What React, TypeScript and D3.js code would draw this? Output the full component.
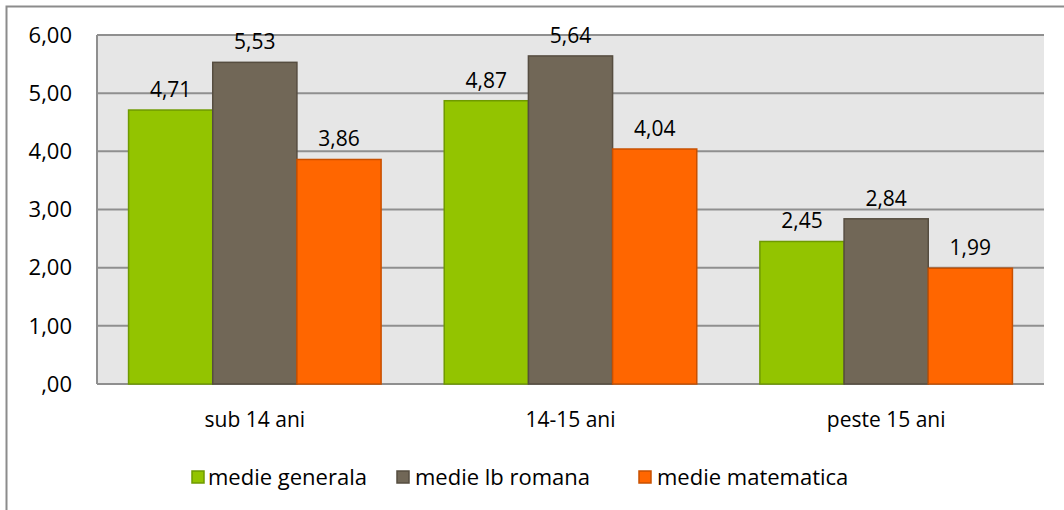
import React from "react";
import * as d3 from "d3";

const categories = ["sub 14 ani", "14-15 ani", "peste 15 ani"];
const seriesNames = ["medie generala", "medie lb romana", "medie matematica"];
const medieGenerala = [4.71, 4.87, 2.45];
const medieRomana = [5.53, 5.64, 2.84];
const medieMatematica = [3.86, 4.04, 1.99];
const yTicks = [0, 1, 2, 3, 4, 5, 6];

const fills = ["#93C400", "#716757", "#FF6600"];
const strokes = ["#6F9A00", "#564d40", "#C85000"];

const fmt = (v: number) => {
  const s = v.toFixed(2).replace(".", ",");
  return s.startsWith("0,") ? s.slice(1) : s;
};

export default function App() {
  const W = 1064, H = 510;
  const left = 97, right = 1044, top = 35, bottom = 384;
  const font = "'Open Sans', sans-serif";
  const series = [medieGenerala, medieRomana, medieMatematica];

  const catW = (right - left) / categories.length;
  const barW = catW / (3 + 0.75);
  const y = d3.scaleLinear().domain([0, 6]).range([bottom, top]);
  const x0 = d3.scaleBand().domain(categories).range([left, right]).padding(0);

  const catX = (c: string) => (x0(c) as number) + (catW - 3 * barW) / 2;

  const legendItems = [
    { name: seriesNames[0], x: 192, tx: 208 },
    { name: seriesNames[1], x: 397, tx: 415 },
    { name: seriesNames[2], x: 639, tx: 657 },
  ];

  return (
    <svg width={W} height={H} style={{ position: "absolute", left: 0, top: 0 }} fontFamily={font}>
      <rect x={0} y={0} width={W} height={H} fill="#fff" />
      <rect x={6.5} y={6.5} width={W + 20} height={H + 20} fill="none" stroke="#8c8c8c" strokeWidth={2} />
      <rect x={left} y={top} width={right - left} height={bottom - top} fill="#E6E6E6" />
      {yTicks.map((t) => (
        <line key={"g" + t} x1={left} x2={right} y1={y(t)} y2={y(t)} stroke="#8f8f8f" strokeWidth={2} />
      ))}
      <line x1={left} x2={left} y1={top} y2={bottom} stroke="#8f8f8f" strokeWidth={2} />
      {yTicks.map((t) => (
        <text key={"t" + t} x={72} y={y(t)} dy="0.35em" textAnchor="end" fontSize={22} fill="#000">
          {fmt(t)}
        </text>
      ))}
      {categories.map((c, ci) =>
        series.map((s, si) => {
          const bx = catX(c) + si * barW;
          const by = y(s[ci]);
          return (
            <g key={c + si}>
              <rect x={bx} y={by} width={barW} height={bottom - by} fill={fills[si]} stroke={strokes[si]} strokeWidth={1.5} />
              <text x={bx + barW / 2} y={by - 13} textAnchor="middle" fontSize={21} fill="#000">
                {fmt(s[ci])}
              </text>
            </g>
          );
        })
      )}
      {categories.map((c) => (
        <text key={"c" + c} x={(x0(c) as number) + catW / 2} y={420} dy="0.35em" textAnchor="middle" fontSize={21} fill="#000">
          {c}
        </text>
      ))}
      {legendItems.map((l, i) => (
        <g key={l.name}>
          <rect x={l.x} y={471} width={12} height={12} fill={fills[i]} stroke={strokes[i]} strokeWidth={1.5} />
          <text x={l.tx} y={477} dy="0.35em" fontSize={22} fill="#000">
            {l.name}
          </text>
        </g>
      ))}
    </svg>
  );
}
